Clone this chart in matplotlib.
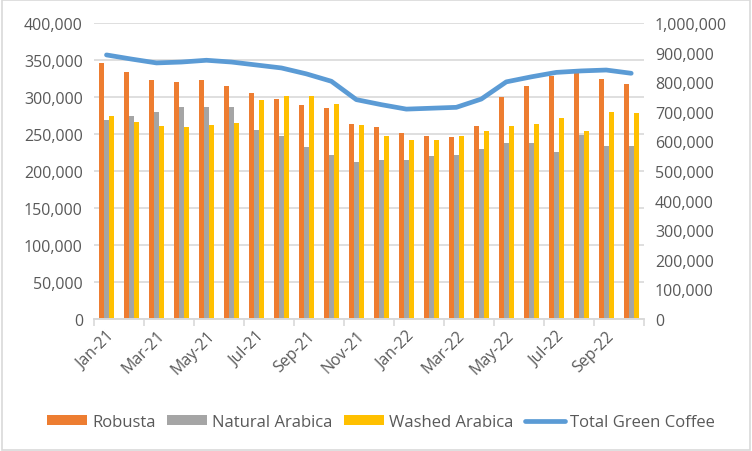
import matplotlib.pyplot as plt
import numpy as np
from matplotlib.patches import Rectangle
from matplotlib.ticker import FuncFormatter, MultipleLocator, FixedLocator

plt.rcParams['font.family'] = ['Open Sans', 'DejaVu Sans']

months = ["Jan-21", "Feb-21", "Mar-21", "Apr-21", "May-21", "Jun-21", "Jul-21", "Aug-21",
          "Sep-21", "Oct-21", "Nov-21", "Dec-21", "Jan-22", "Feb-22", "Mar-22", "Apr-22",
          "May-22", "Jun-22", "Jul-22", "Aug-22", "Sep-22", "Oct-22"]

robusta = [346000, 334000, 323000, 320000, 323000, 315000, 305000, 297000, 289000, 285000,
           263000, 259000, 251000, 247000, 246000, 261000, 300000, 315000, 328000, 332000,
           324000, 318000]
natural_arabica = [269000, 274000, 280000, 286000, 286000, 286000, 255000, 247000, 232000, 222000,
                   212000, 215000, 215000, 220000, 222000, 230000, 238000, 238000, 226000, 249000,
                   234000, 234000]
washed_arabica = [274000, 266000, 261000, 259000, 262000, 265000, 296000, 301000, 301000, 291000,
                  262000, 247000, 242000, 242000, 247000, 254000, 261000, 263000, 272000, 254000,
                  280000, 278000]
total_green = [892000, 878000, 865000, 868000, 874000, 868000, 858000, 848000, 828000, 803000,
               741000, 724000, 709000, 712000, 715000, 743000, 801000, 818000, 833000, 838000,
               841000, 830000]

text_col = "#595959"
grid_col = "#D9D9D9"

fig = plt.figure(figsize=(7.52, 4.52), dpi=100)
ax = fig.add_axes([0.125, 0.292, 0.731, 0.655])
ax2 = ax.twinx()

x = np.arange(len(months))
w = 0.2
ax.bar(x - w, robusta, w, color="#ED7D31", label="Robusta", zorder=2)
ax.bar(x, natural_arabica, w, color="#A5A5A5", label="Natural Arabica", zorder=2)
ax.bar(x + w, washed_arabica, w, color="#FFC000", label="Washed Arabica", zorder=2)
ax2.plot(x, total_green, color="#5B9BD5", lw=3.4, solid_capstyle="round", label="Total Green Coffee")

ax.set_ylim(0, 400000)
ax2.set_ylim(0, 1000000)
ax.set_xlim(-0.5, len(months) - 0.5)
ax.yaxis.set_major_locator(MultipleLocator(50000))
ax2.yaxis.set_major_locator(MultipleLocator(100000))
fmt = FuncFormatter(lambda v, p: f"{int(v):,}")
ax.yaxis.set_major_formatter(fmt)
ax2.yaxis.set_major_formatter(fmt)
ax.grid(axis="y", color=grid_col, lw=1.2, zorder=0)
ax.set_axisbelow(True)

# ticks at category boundaries every two months, labels on every other month
ax.xaxis.set_major_locator(FixedLocator(np.arange(-0.5, len(months), 2)))
ax.xaxis.set_major_formatter(FuncFormatter(lambda v, p: ""))
ax.xaxis.set_minor_locator(FixedLocator(x[::2]))
ax.set_xticklabels(months[::2], minor=True)
ax.tick_params(axis="x", which="major", length=5, color=grid_col, width=1.2)
ax.tick_params(axis="x", which="minor", length=0, pad=6)
for lab in ax.get_xticklabels(minor=True):
    lab.set_rotation(45)
    lab.set_ha("right")
    lab.set_rotation_mode("anchor")

for a in (ax, ax2):
    for s in ("left", "right", "top"):
        a.spines[s].set_visible(False)
    a.spines["bottom"].set_color(grid_col)
    a.spines["bottom"].set_linewidth(1.2)
    a.tick_params(axis="y", length=0, labelsize=11.5, labelcolor=text_col, pad=8)
ax.tick_params(axis="x", which="both", labelsize=11.5, labelcolor=text_col)

h1, l1 = ax.get_legend_handles_labels()
h2, l2 = ax2.get_legend_handles_labels()
fig.legend(h1 + h2, l1 + l2, loc="center", bbox_to_anchor=(0.507, 0.064), ncol=4, frameon=False,
           fontsize=12, labelcolor=text_col, handlelength=2.4, handleheight=0.55,
           handletextpad=0.3, columnspacing=0.7)

fig.patches.append(Rectangle((0.002, 0.003), 0.995, 0.994, transform=fig.transFigure,
                             fill=False, edgecolor=grid_col, lw=1.2))

fig.savefig("out.png", dpi=100)
